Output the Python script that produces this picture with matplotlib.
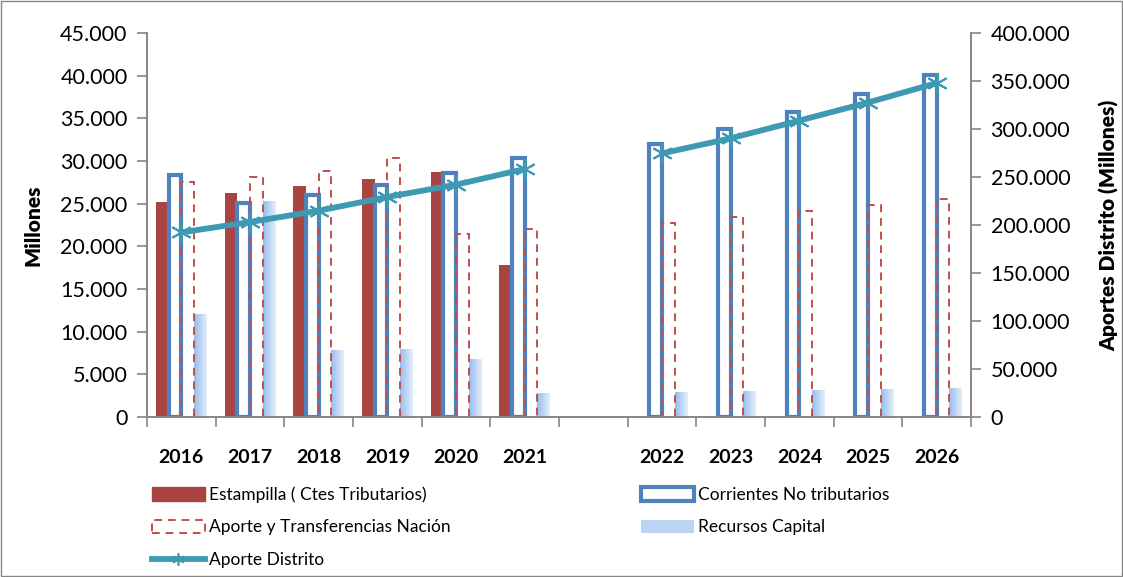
import numpy as np
import matplotlib
matplotlib.use("Agg")
import matplotlib.pyplot as plt
from matplotlib.patches import Patch, Rectangle
from matplotlib.lines import Line2D
from matplotlib.colors import LinearSegmentedColormap
from matplotlib.ticker import FuncFormatter, FixedLocator

plt.rcParams['font.family'] = ['Lato', 'DejaVu Sans']

# Years (an empty slot separates 2021 and 2022)
years = ['2016', '2017', '2018', '2019', '2020', '2021', '',
         '2022', '2023', '2024', '2025', '2026']

nan = np.nan
# Left axis series (Millones)
estampilla = [25200, 26250, 27100, 27850, 28700, 17850, nan,
              nan, nan, nan, nan, nan]
corrientes = [28400, 25100, 26050, 27150, 28600, 30300, nan,
              31950, 33750, 35750, 37900, 40100]
aporte_nacion = [27500, 28100, 28800, 30300, 21400, 22000, nan,
                 22700, 23450, 24100, 24800, 25600]
recursos = [12000, 25200, 7800, 7950, 6750, 2750, nan,
            2900, 3000, 3150, 3250, 3350]
# Right axis series (Millones)
aporte_distrito = [192300, 203100, 214900, 229200, 242000, 258300, nan,
                   274600, 290300, 308800, 327600, 347900]

RED = '#A94442'
BLUE = '#4F81BD'
DASH_RED = '#C0504D'
TEAL = '#3D9AB2'
GRAY = '#868686'

fig = plt.figure(figsize=(11.23, 5.77), dpi=100)
ax = fig.add_axes([0.1309, 0.2773, 0.7338, 0.6655])
ax2 = ax.twinx()

x = np.arange(len(years))
w = 0.185

ax.bar(x - 1.5 * w, estampilla, w, color=RED, zorder=2)
ax.bar(x - 0.5 * w, corrientes, w, facecolor='white', edgecolor=BLUE,
       linewidth=3, zorder=3)
ax.bar(x + 0.5 * w, aporte_nacion, w, facecolor='none', edgecolor=DASH_RED,
       linewidth=1.4, linestyle=(0, (4, 3)), zorder=4)
rec_bars = ax.bar(x + 1.5 * w, recursos, w, color='none', zorder=2)

# gradient fill for Recursos Capital
cmap = LinearSegmentedColormap.from_list('rc', ['#96BDEE', '#E4EEFA'])
grad = np.linspace(0, 1, 64).reshape(1, -1)
for b in rec_bars:
    h = b.get_height()
    if np.isnan(h):
        continue
    x0 = b.get_x()
    ax.imshow(grad, extent=[x0, x0 + b.get_width(), 0, h], aspect='auto',
              cmap=cmap, zorder=2)

ax2.plot(x, aporte_distrito, color=TEAL, linewidth=4.2,
         marker=(6, 2, 0), markersize=15, markeredgewidth=1.4,
         markeredgecolor=TEAL, zorder=5)

ax.set_xlim(-0.5, len(years) - 0.5)
ax.set_ylim(0, 45000)
ax2.set_ylim(0, 400000)
ax.set_yticks(np.arange(0, 45001, 5000))
ax2.set_yticks(np.arange(0, 400001, 50000))

fmt = FuncFormatter(lambda v, p: f"{int(v):,}".replace(",", "."))
ax.yaxis.set_major_formatter(fmt)
ax2.yaxis.set_major_formatter(fmt)

ax.set_xticks(x)
ax.set_xticklabels(years, fontsize=14, fontweight='bold')
ax.xaxis.set_minor_locator(FixedLocator(np.arange(-0.5, len(years), 1)))
ax.tick_params(axis='x', which='major', length=0, pad=23)
ax.tick_params(axis='x', which='minor', length=7, color=GRAY, width=1.2,
               direction='out')
ax.tick_params(axis='y', length=7, color=GRAY, width=1.2, labelsize=15.5, pad=7)
ax2.tick_params(axis='y', length=7, color=GRAY, width=1.2, labelsize=15.5, pad=7)

for a in (ax, ax2):
    a.spines['top'].set_visible(False)
    for s in ('left', 'right', 'bottom'):
        a.spines[s].set_color(GRAY)
        a.spines[s].set_linewidth(1.2)

ax.set_ylabel('Millones', fontsize=15, fontweight='heavy', labelpad=13)
ax2.set_ylabel('Aportes Distrito (Millones)', fontsize=15, fontweight='heavy',
               labelpad=21)

handles = [
    Patch(facecolor=RED, edgecolor=RED),
    Patch(facecolor='none', edgecolor=DASH_RED, linestyle=(0, (4, 3)), linewidth=1.4),
    Line2D([], [], color=TEAL, linewidth=4.2, marker=(6, 2, 0), markersize=9,
           markeredgewidth=1.2),
    Patch(facecolor='white', edgecolor=BLUE, linewidth=3),
    Patch(facecolor='#BCD4F4', edgecolor='none'),
]
labels = ['Estampilla ( Ctes Tributarios)', 'Aporte y Transferencias Nación',
          'Aporte Distrito', 'Corrientes No tributarios', 'Recursos Capital']
fig.legend(handles, labels, ncol=2, loc='upper left',
           bbox_to_anchor=(0.128, 0.172), frameon=False, fontsize=12.5,
           handlelength=3.0, handleheight=0.8, handletextpad=0.25,
           columnspacing=11.0, labelspacing=0.95, borderpad=0)

fig.add_artist(Rectangle((0.001, 0.001), 0.998, 0.998, transform=fig.transFigure,
                         fill=False, edgecolor=GRAY, linewidth=1))

fig.savefig('out.png', dpi=100)
